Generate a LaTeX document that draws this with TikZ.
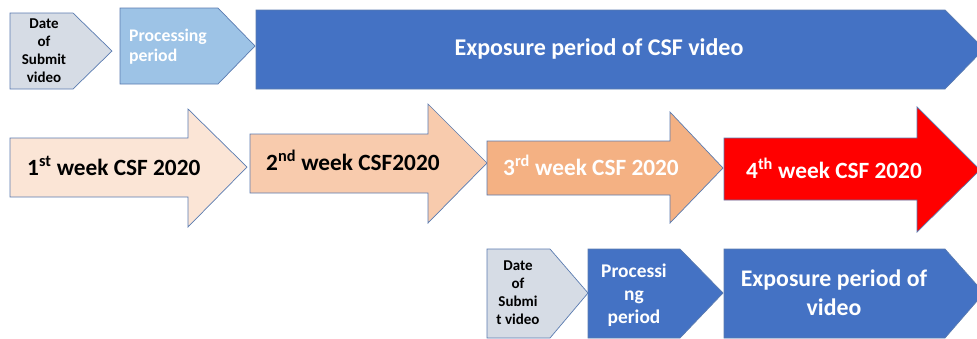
\documentclass[tikz,border=0pt]{standalone}
\usepackage{fontspec}
\setmainfont{Carlito}
\definecolor{cgrey}{HTML}{D6DCE5}
\definecolor{clblue}{HTML}{9DC3E6}
\definecolor{cblue}{HTML}{4472C4}
\definecolor{cp1}{HTML}{FBE5D6}
\definecolor{cp2}{HTML}{F8CBAD}
\definecolor{cp3}{HTML}{F4B183}
\definecolor{cred}{HTML}{FF0000}
\definecolor{cline}{HTML}{5A7BB0}
\begin{document}
\begin{tikzpicture}[x=1pt,y=-1pt,
  shp/.style={draw=cline,line width=0.7pt,line join=miter},
  lbl/.style={inner sep=0pt,font=\bfseries},
  small/.style={lbl,align=center,font=\fontsize{15}{18}\selectfont\bfseries},
  big/.style={lbl,font=\fontsize{23.3}{26}\selectfont\bfseries}]
\useasboundingbox (0,0) rectangle (977,338);
% top row
\draw[shp,fill=cgrey] (10,13) -- (73,13) -- (112,51) -- (73,89) -- (10,89) -- cycle;
\draw[shp,fill=clblue] (120,8) -- (218,8) -- (255,46) -- (218,84) -- (120,84) -- cycle;
\draw[shp,fill=cblue] (256,10) -- (945,10) -- (984,49) -- (945,89) -- (256,89) -- cycle;
\node[small] (t1) at (44,51) {Date\\of\\Submit\\video};
\node[lbl,anchor=west,align=left,text=white,font=\fontsize{17.7}{20}\selectfont\bfseries] (t2) at (129,47) {Processing\\period};
\node[lbl,text=white,font=\fontsize{24}{28}\selectfont\bfseries] (t3) at (599,49) {Exposure period of CSF video};
% middle arrows
\draw[shp,fill=cp1] (10,138) -- (188,138) -- (188,109) -- (247,167) -- (188,227) -- (188,197) -- (10,197) -- cycle;
\draw[shp,fill=cp2] (250,134) -- (428,134) -- (428,104) -- (487,163) -- (428,223) -- (428,193) -- (250,193) -- cycle;
\draw[shp,fill=cp3] (487,141) -- (670,141) -- (670,112) -- (723,168) -- (670,223) -- (670,195) -- (487,195) -- cycle;
\draw[shp,fill=cred] (724,138) -- (917,138) -- (917,107) -- (980,170) -- (917,232) -- (917,200) -- (724,200) -- cycle;
\node[big,anchor=west] (w1) at (27,166) {1\textsuperscript{st} week CSF 2020};
\node[big,anchor=west] (w2) at (266,160) {2\textsuperscript{nd} week CSF2020};
\node[big,anchor=west,text=white] (w3) at (503,165) {3\textsuperscript{rd} week CSF 2020};
\node[big,anchor=west,text=white] (w4) at (746,168) {4\textsuperscript{th} week CSF 2020};
% bottom row
\draw[shp,fill=cgrey] (487,249) -- (550,249) -- (588,293) -- (550,338) -- (487,338) -- cycle;
\draw[shp,fill=cblue] (588,249) -- (680,249) -- (723,293) -- (680,338) -- (588,338) -- cycle;
\draw[shp,fill=cblue] (724,249) -- (945,249) -- (984,293) -- (945,338) -- (724,338) -- cycle;
\node[small] (b1) at (518,293) {Date\\of\\Submi\\t video};
\node[lbl,align=center,text=white,font=\fontsize{19.4}{23}\selectfont\bfseries] (b2) at (634,295) {Processi\\ng\\period};
\node[lbl,align=center,text=white,font=\fontsize{23.8}{29}\selectfont\bfseries] (b3) at (834,293) {Exposure period of\\video};
\end{tikzpicture}
\end{document}
